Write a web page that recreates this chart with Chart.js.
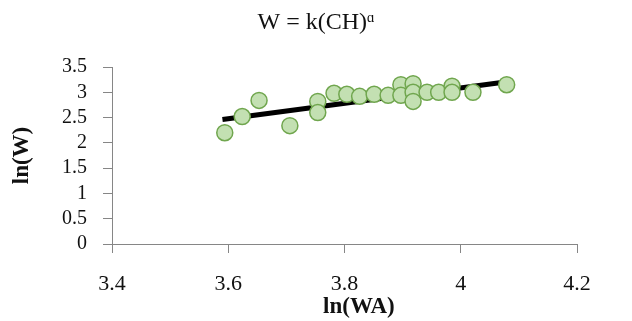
<!DOCTYPE html>
<html lang="en">
<head>
    <meta charset="UTF-8">
    <title>W = k(CH)a</title>
    <script src="https://cdn.jsdelivr.net/npm/chart.js"></script>
    <style>
        body {
            margin: 0;
            padding: 0;
            background-color: #ffffff;
        }
        .chart-container {
            position: relative;
            width: 632px;
            height: 321px;
        }
    </style>
</head>
<body>
    <div class="chart-container">
        <canvas id="myChart"></canvas>
    </div>

    <script>
        // ln(WA) / ln(W)
        const lnWA = [3.594, 3.624, 3.653, 3.706, 3.754, 3.754, 3.782, 3.804, 3.826, 3.851, 3.875,
                      3.897, 3.897, 3.918, 3.918, 3.918, 3.942, 3.962, 3.985, 3.985, 4.021, 4.079];
        const lnW  = [2.20, 2.52, 2.84, 2.34, 2.82, 2.60, 2.98, 2.96, 2.92, 2.96, 2.94,
                      3.15, 2.94, 3.17, 3.00, 2.82, 3.00, 3.00, 3.12, 3.00, 3.00, 3.15];

        // trend line ends, also
        const trendX = [3.59, 4.08];
        const trendY = [2.46, 3.21];

        const xTickLabels = ['3.4', '3.6', '3.8', '4', '4.2'];
        const yTickLabels = ['0', '0.5', '1', '1.5', '2', '2.5', '3', '3.5'];

        const axisColor = '#868686';
        const serif = "'Liberation Serif', 'Times New Roman', serif";

        const points = lnWA.map((x, i) => ({ x: x, y: lnW[i] }));
        const trend = trendX.map((x, i) => ({ x: x, y: trendY[i] }));

        const ctx = document.getElementById('myChart').getContext('2d');
        new Chart(ctx, {
            type: 'scatter',
            data: {
                datasets: [
                    {
                        label: 'ln(W)',
                        data: points,
                        backgroundColor: '#c3e0b2',
                        borderColor: '#70a64e',
                        borderWidth: 1.5,
                        pointRadius: 8,
                        pointHoverRadius: 8
                    },
                    {
                        type: 'line',
                        label: 'trend',
                        data: trend,
                        borderColor: '#000000',
                        borderWidth: 5,
                        pointRadius: 0,
                        fill: false
                    }
                ]
            },
            options: {
                responsive: true,
                maintainAspectRatio: false,
                animation: false,
                layout: { padding: 0 },
                plugins: {
                    legend: { display: false },
                    tooltip: { enabled: false },
                    title: {
                        display: true,
                        text: 'W = k(CH)ᵅ',
                        color: '#111',
                        font: { family: serif, size: 24, weight: 'normal' },
                        padding: { top: 8.6, bottom: 29.6 }
                    }
                },
                scales: {
                    x: {
                        type: 'linear',
                        min: 3.4,
                        max: 4.2,
                        afterFit: scale => { scale.height = 77; },
                        ticks: {
                            stepSize: 0.2,
                            padding: 18,
                            autoSkip: false,
                            maxRotation: 0,
                            color: '#111',
                            font: { family: serif, size: 22 },
                            callback: (v) => xTickLabels[Math.round((v - 3.4) / 0.2)]
                        },
                        grid: { drawOnChartArea: false, drawTicks: true, tickLength: 9, color: axisColor },
                        border: { display: true, color: axisColor, width: 1 },
                        title: {
                            display: true,
                            text: '     ln(WA)',
                            color: '#111',
                            font: { family: serif, size: 23, weight: 'bold' },
                            padding: { top: 0, bottom: 0 }
                        }
                    },
                    y: {
                        type: 'linear',
                        min: 0,
                        max: 3.5,
                        afterFit: scale => { scale.width = 112; },
                        ticks: {
                            stepSize: 0.5,
                            padding: 16,
                            autoSkip: false,
                            color: '#111',
                            font: { family: serif, size: 20 },
                            callback: (v) => yTickLabels[Math.round(v / 0.5)]
                        },
                        grid: { drawOnChartArea: false, drawTicks: true, tickLength: 9, color: axisColor },
                        border: { display: true, color: axisColor, width: 1 },
                        title: {
                            display: true,
                            text: 'ln(W)',
                            color: '#111',
                            font: { family: serif, size: 23, weight: 'bold' },
                            padding: { top: 8, bottom: 0 }
                        }
                    },
                    // empty right-hand box, keeps the plot area where the picture has it
                    yRight: {
                        type: 'linear',
                        position: 'right',
                        display: true,
                        afterFit: scale => { scale.width = 55; },
                        ticks: { display: false },
                        grid: { display: false },
                        border: { display: false }
                    }
                }
            }
        });
    </script>
</body>
</html>
